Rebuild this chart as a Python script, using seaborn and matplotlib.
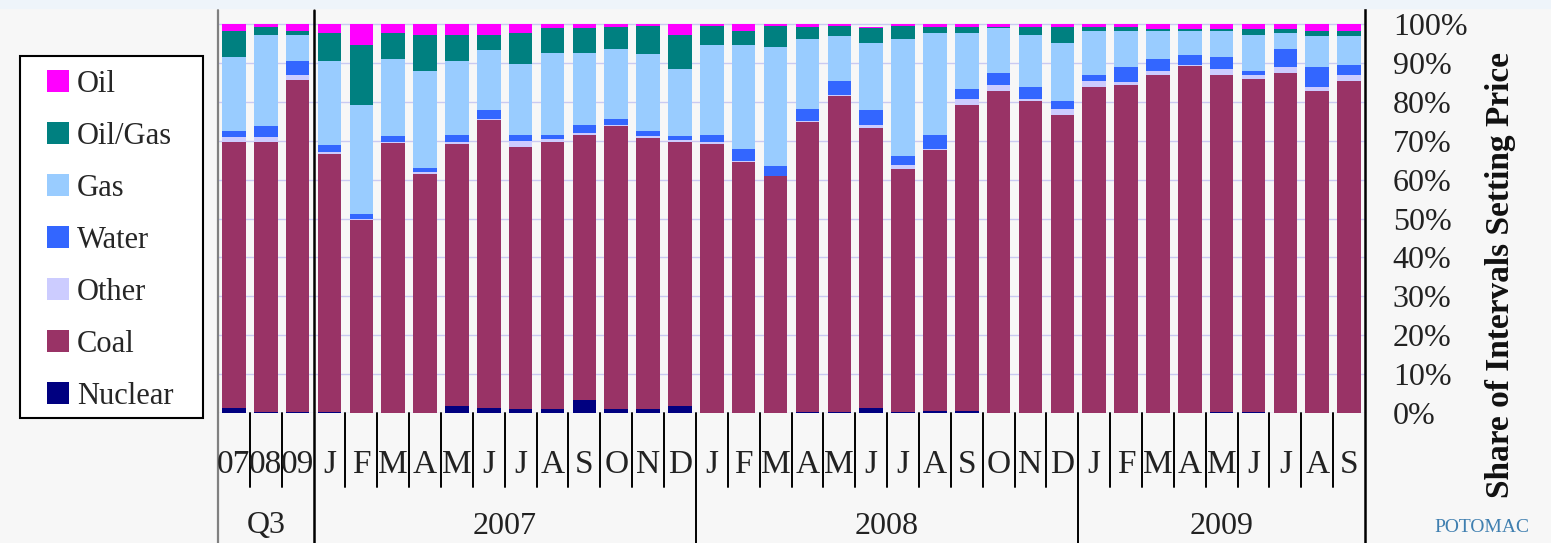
import pandas as pd
import matplotlib
matplotlib.use('Agg')
import matplotlib.pyplot as plt
import matplotlib.transforms as mtransforms
from matplotlib.patches import Patch, Rectangle
from matplotlib.lines import Line2D
import seaborn as sns

# periods (unique keys) and the labels shown under the bars
periods = ['Q3-07', 'Q3-08', 'Q3-09',
           'Jan-07', 'Feb-07', 'Mar-07', 'Apr-07', 'May-07', 'Jun-07',
           'Jul-07', 'Aug-07', 'Sep-07', 'Oct-07', 'Nov-07', 'Dec-07',
           'Jan-08', 'Feb-08', 'Mar-08', 'Apr-08', 'May-08', 'Jun-08',
           'Jul-08', 'Aug-08', 'Sep-08', 'Oct-08', 'Nov-08', 'Dec-08',
           'Jan-09', 'Feb-09', 'Mar-09', 'Apr-09', 'May-09', 'Jun-09',
           'Jul-09', 'Aug-09', 'Sep-09']
tick_labels = ['07', '08', '09',
               'J', 'F', 'M', 'A', 'M', 'J', 'J', 'A', 'S', 'O', 'N', 'D',
               'J', 'F', 'M', 'A', 'M', 'J', 'J', 'A', 'S', 'O', 'N', 'D',
               'J', 'F', 'M', 'A', 'M', 'J', 'J', 'A', 'S']
group_names = ['Q3', '2007', '2008', '2009']
group_first = [0, 3, 15, 27]
group_last = [2, 14, 26, 35]

# share of intervals setting price (%) by fuel
nuclear = [1.3, 0.3, 0.3, 0.3, 0.0, 0.0, 0.0, 1.9, 1.3, 0.9, 0.9, 3.4,
           0.9, 0.9, 1.9, 0.0, 0.0, 0.0, 0.3, 0.3, 1.3, 0.3, 0.6, 0.6,
           0.0, 0.0, 0.0, 0.0, 0.0, 0.0, 0.0, 0.2, 0.2, 0.0, 0.0, 0.0]
coal = [68.3, 69.3, 85.2, 66.4, 49.6, 69.4, 61.5, 67.2, 73.9, 67.6, 68.7, 68.1,
        72.8, 69.8, 67.8, 69.1, 64.4, 60.9, 74.4, 81.1, 71.9, 62.5, 66.9, 78.6,
        82.8, 80.3, 76.7, 83.9, 84.4, 86.9, 89.1, 86.7, 85.7, 87.4, 82.8, 85.4]
other = [1.3, 1.3, 1.4, 0.3, 0.4, 0.2, 0.4, 0.5, 0.4, 1.5, 0.8, 0.6,
         0.4, 0.4, 0.4, 0.5, 0.5, 0.0, 0.4, 0.4, 0.9, 1.0, 0.4, 1.5,
         1.6, 0.5, 1.4, 1.5, 0.6, 1.0, 0.4, 1.5, 1.0, 1.5, 1.1, 1.5]
water = [1.7, 2.8, 3.7, 2.0, 1.1, 1.5, 1.0, 1.9, 2.2, 1.5, 1.1, 2.0,
         1.5, 1.5, 1.0, 1.9, 3.0, 2.5, 3.1, 3.6, 3.7, 2.2, 3.6, 2.6,
         3.0, 3.0, 2.2, 1.5, 3.9, 3.1, 2.6, 3.1, 1.1, 4.6, 5.0, 2.6]
gas = [19.0, 23.5, 6.6, 21.6, 28.1, 19.9, 25.0, 19.1, 15.4, 18.2, 21.0, 18.4,
       18.0, 19.6, 17.4, 23.1, 26.7, 30.8, 18.0, 11.4, 17.4, 30.2, 26.3, 14.5,
       11.5, 13.4, 14.9, 11.4, 9.4, 7.3, 6.2, 6.8, 9.2, 4.3, 7.9, 7.3]
oil_gas = [6.7, 2.1, 0.9, 7.2, 15.4, 6.8, 9.3, 6.6, 4.0, 8.1, 6.4, 6.4,
           5.7, 7.3, 8.7, 4.9, 3.6, 5.3, 3.1, 2.7, 3.7, 3.3, 1.5, 1.5,
           0.4, 2.1, 4.1, 1.0, 1.0, 0.4, 0.4, 0.4, 1.5, 0.9, 1.5, 1.5]
oil = [1.7, 0.7, 1.9, 2.2, 5.4, 2.2, 2.8, 2.8, 2.8, 2.2, 1.1, 1.1,
       0.7, 0.5, 2.8, 0.5, 1.8, 0.5, 0.7, 0.5, 0.4, 0.5, 0.7, 0.7,
       0.7, 0.7, 0.7, 0.7, 0.7, 1.3, 1.3, 1.3, 1.3, 1.3, 1.7, 1.7]

fuels = ['Nuclear', 'Coal', 'Other', 'Water', 'Gas', 'Oil/Gas', 'Oil']
colors = {'Nuclear': '#000080', 'Coal': '#993366', 'Other': '#CCCCFF',
          'Water': '#3366FF', 'Gas': '#99CCFF', 'Oil/Gas': '#008080',
          'Oil': '#FF00FF'}

df = pd.DataFrame({'Nuclear': nuclear, 'Coal': coal, 'Other': other,
                   'Water': water, 'Gas': gas, 'Oil/Gas': oil_gas,
                   'Oil': oil}, index=periods)
tops = df[fuels].cumsum(axis=1)

sns.set_theme(style='white')
plt.rcParams['font.family'] = ['Liberation Serif', 'DejaVu Serif']

W, H = 1551, 543
fig = plt.figure(figsize=(W / 100, H / 100), dpi=100, facecolor='#F7F7F7')
fig.patches.append(Rectangle((0, 1 - 8 / H), 1, 8 / H, transform=fig.transFigure,
                             color='#EEF4FA', zorder=0))

ax_top, ax_bot, ax_l, ax_r = 10, 413, 218, 1365
ax = fig.add_axes([ax_l / W, 1 - ax_bot / H, (ax_r - ax_l) / W, (ax_bot - ax_top) / H])
ax.set_facecolor('#F7F7F7')

# stacked bars: draw cumulative heights from the top layer down
for name in fuels[::-1]:
    sns.barplot(x=periods, y=tops[name].values, order=periods, color=colors[name],
                saturation=1, width=0.74, linewidth=0, errorbar=None, ax=ax)

ax.set_xlim(-0.5, len(periods) - 0.5)
ax.set_ylim(0, 100 * (ax_bot - ax_top) / (ax_bot - 24))
ax.set_yticks(range(0, 101, 10))
ax.set_yticklabels([f'{v}%' for v in range(0, 101, 10)])
ax.yaxis.tick_right()
ax.tick_params(axis='y', length=0, pad=20, labelsize=23, labelcolor='#222222')
ax.set_xticks([])
ax.set_xlabel('')
ax.set_ylabel('')
ax.set_axisbelow(True)
ax.yaxis.grid(True, color='#CACAF2', linewidth=1)
for s in ax.spines.values():
    s.set_visible(False)

# category axis drawn by hand: separators and labels
trans = mtransforms.blended_transform_factory(ax.transData, ax.transAxes)
y_short = -(487 - ax_bot) / (ax_bot - ax_top)
y_bottom = -(H - ax_bot) / (ax_bot - ax_top)
y_month = -(465 - ax_bot) / (ax_bot - ax_top)
y_group = -(526 - ax_bot) / (ax_bot - ax_top)

ax.add_line(Line2D([-0.5, -0.5], [1.0, y_bottom], transform=trans, color='#808080',
                   lw=1.6, clip_on=False))
ax.add_line(Line2D([35.5, 35.5], [1.005, y_bottom], transform=trans, color='black',
                   lw=1.8, clip_on=False))
ax.add_line(Line2D([2.5, 2.5], [1.0, y_bottom], transform=trans, color='black',
                   lw=1.8, clip_on=False))
for g in group_last[1:-1]:
    ax.add_line(Line2D([g + 0.5, g + 0.5], [0, y_bottom], transform=trans,
                       color='black', lw=1.4, clip_on=False))
for i in range(len(periods) - 1):
    if i in group_last:
        continue
    ax.add_line(Line2D([i + 0.5, i + 0.5], [0, y_short], transform=trans,
                       color='black', lw=1.4, clip_on=False))

for i, lab in enumerate(tick_labels):
    ax.text(i, y_month, lab, transform=trans, ha='center', va='center',
            fontsize=24, color='#222222')
for name, a, b in zip(group_names, group_first, group_last):
    ax.text((a + b) / 2, y_group, name, transform=trans, ha='center', va='center',
            fontsize=23, color='#222222')

fig.text(1500 / W, 1 - 275 / H, 'Share of Intervals Setting Price', rotation=90,
         ha='center', va='center', fontsize=24, fontweight='bold', color='#111111')
fig.text(1482 / W, 1 - 527 / H, 'POTOMAC', ha='center', va='center', fontsize=14,
         color='#3F7FB0')

# legend: frame drawn separately, entries placed inside it
fig.patches.append(Rectangle((20 / W, 1 - 418 / H), 183 / W, 362 / H,
                             transform=fig.transFigure, facecolor='white',
                             edgecolor='black', linewidth=1.5, zorder=1))
handles = [Patch(facecolor=colors[f], edgecolor='none') for f in fuels[::-1]]
leg = fig.legend(handles, fuels[::-1], loc='upper left',
                 bbox_to_anchor=(47 / W, 1 - 70 / H), frameon=False, fontsize=22,
                 handlelength=0.72, handleheight=0.72, labelspacing=0.75,
                 borderpad=0, handletextpad=0.25, borderaxespad=0)
leg.set_zorder(2)

fig.savefig('out.png', dpi=100, facecolor=fig.get_facecolor())
